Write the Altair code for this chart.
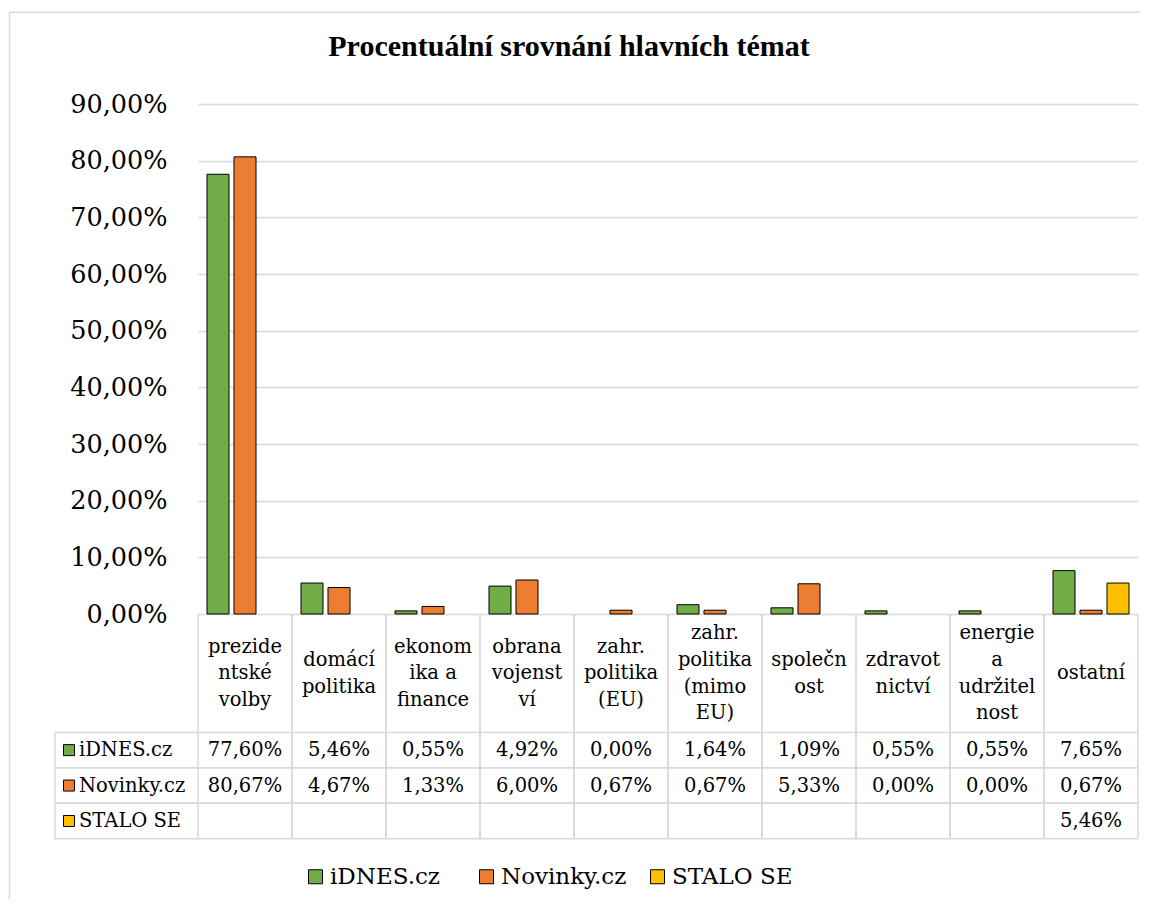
import altair as alt
import pandas as pd

TITLE = "Procentuální srovnání hlavních témat"
categories = ["prezidentské volby", "domácí politika", "ekonomika a finance",
              "obrana vojenství", "zahr. politika (EU)", "zahr. politika (mimo EU)",
              "společnost", "zdravotnictví", "energie a udržitelnost", "ostatní"]
cat_labels = ["prezide\nntské\nvolby", "domácí\npolitika", "ekonom\nika a\nfinance",
              "obrana\nvojenst\nví", "zahr.\npolitika\n(EU)", "zahr.\npolitika\n(mimo\nEU)",
              "společn\nost", "zdravot\nnictví", "energie\na\nudržitel\nnost", "ostatní"]
series = ["iDNES.cz", "Novinky.cz", "STALO SE"]
colors = ["#70AD47", "#ED7D31", "#FFC000"]
idnes = [0.7760, 0.0546, 0.0055, 0.0492, 0.0000, 0.0164, 0.0109, 0.0055, 0.0055, 0.0765]
novinky = [0.8067, 0.0467, 0.0133, 0.0600, 0.0067, 0.0067, 0.0533, 0.0000, 0.0000, 0.0067]
stalo = [None, None, None, None, None, None, None, None, None, 0.0546]
y_ticks = [0, 0.1, 0.2, 0.3, 0.4, 0.5, 0.6, 0.7, 0.8, 0.9]

rows = []
for s, vals in zip(series, [idnes, novinky, stalo]):
    for c, v in zip(categories, vals):
        rows.append({"cat": c, "series": s, "value": v})
df = pd.DataFrame(rows)
df_cats = pd.DataFrame({"cat": categories, "label": cat_labels,
                        "n": [lab.count("\n") + 1 for lab in cat_labels]})
df_series = pd.DataFrame({"series": series})

FONT = "DejaVu Serif"
TFONT = "Liberation Serif"
GRID = "#d9d9d9"
W, H = 940, 510
ROW_TOP, ROW_BOT = 628.4, 734.7  # table data rows (relative to plot)
LH = 26.7
TS = 19.5  # table font size

xenc = alt.X("cat:N", sort=categories,
             scale=alt.Scale(domain=categories, paddingInner=0, paddingOuter=0), axis=None)
color = alt.Color("series:N", scale=alt.Scale(domain=series, range=colors),
                  legend=alt.Legend(title=None, orient="none", direction="horizontal",
                                    legendX=106, legendY=761, symbolType="square",
                                    symbolSize=196, symbolStrokeColor="black",
                                    symbolStrokeWidth=1, labelFont=FONT, labelFontSize=23,
                                    labelColor="black", labelOffset=3, gridAlign="all",
                                    columnPadding=19, padding=0, symbolOpacity=1,
                                    labelLimit=300))
row_scale = alt.Scale(domain=series, range=[ROW_TOP, ROW_BOT], paddingInner=0, paddingOuter=0)

base = alt.Chart(df)

bars = base.transform_filter("datum.value > 0").mark_bar(
    stroke="black", strokeWidth=1, opacity=1
).encode(
    x=xenc,
    xOffset=alt.XOffset("series:N", scale=alt.Scale(domain=series, paddingInner=0.185,
                                                      paddingOuter=0.333)),
    y=alt.Y("value:Q", scale=alt.Scale(domain=[0, 0.9], nice=False, zero=True),
            axis=alt.Axis(values=y_ticks, title=None, domain=False, ticks=False, tickSize=0,
                          labelExpr="replace(format(datum.value, '.2%'), '.', ',')",
                          labelFont=FONT, labelFontSize=25.5, labelColor="black",
                          labelPadding=31, grid=True, gridColor=GRID, gridWidth=1.5)),
    color=color,
)

# table: vertical separators
vlines_l = alt.Chart(df_cats).mark_rule(color=GRID, strokeWidth=1.5).encode(
    x=alt.X("cat:N", sort=categories, bandPosition=0,
            scale=alt.Scale(domain=categories, paddingInner=0, paddingOuter=0), axis=None),
    y=alt.value(H), y2=alt.value(ROW_BOT))
vlines_r = alt.Chart(df_cats).mark_rule(color=GRID, strokeWidth=1.5).encode(
    x=alt.X("cat:N", sort=categories, bandPosition=1,
            scale=alt.Scale(domain=categories, paddingInner=0, paddingOuter=0), axis=None),
    y=alt.value(H), y2=alt.value(ROW_BOT))
hdr_left = alt.Chart(df_series).transform_filter("datum.series == 'iDNES.cz'").mark_rule(
    color=GRID, strokeWidth=1.5).encode(
    x=alt.value(-143), y=alt.value(ROW_TOP), y2=alt.value(ROW_BOT))
hlines_t = alt.Chart(df_series).mark_rule(color=GRID, strokeWidth=1.5).encode(
    y=alt.Y("series:N", bandPosition=0, scale=row_scale, axis=None),
    x=alt.value(-143), x2=alt.value(W))
hlines_b = alt.Chart(df_series).mark_rule(color=GRID, strokeWidth=1.5).encode(
    y=alt.Y("series:N", bandPosition=1, scale=row_scale, axis=None),
    x=alt.value(-143), x2=alt.value(W))

cat_layers = []
for n in sorted(df_cats["n"].unique()):
    cat_layers.append(
        alt.Chart(df_cats).transform_filter(f"datum.n == {n}").mark_text(
            font=FONT, fontSize=TS, lineBreak="\n", lineHeight=LH, color="black",
            baseline="middle", align="center", dy=-(n - 1) * LH / 2
        ).encode(x=xenc, y=alt.value((H + ROW_TOP) / 2), text="label:N")
    )

val_text = base.transform_filter("isValid(datum.value)").transform_calculate(
    txt="replace(format(datum.value, '.2%'), '.', ',')"
).mark_text(font=FONT, fontSize=TS, color="black", baseline="middle",
            align="center").encode(
    x=xenc, y=alt.Y("series:N", scale=row_scale, axis=None), text="txt:N")

hdr_text = alt.Chart(df_series).mark_text(
    font=FONT, fontSize=TS, color="black", baseline="middle", align="left"
).encode(x=alt.value(-119), y=alt.Y("series:N", scale=row_scale, axis=None), text="series:N")

hdr_sq = alt.Chart(df_series).mark_square(
    size=121, stroke="black", strokeWidth=1, opacity=1
).encode(x=alt.value(-129), y=alt.Y("series:N", scale=row_scale, axis=None), color=color)

title = alt.Chart(pd.DataFrame({"t": [TITLE]})).mark_text(
    font=TFONT, fontSize=30, fontWeight="bold", color="black", align="center",
    baseline="alphabetic"
).encode(x=alt.value(371), y=alt.value(-48), text="t:N")

border_top = alt.Chart(df_series).transform_filter("datum.series == 'iDNES.cz'").mark_rule(
    color=GRID, strokeWidth=1.5).encode(x=alt.value(-188.5), x2=alt.value(942), y=alt.value(-91.8))
border_left = alt.Chart(df_series).transform_filter("datum.series == 'iDNES.cz'").mark_rule(
    color=GRID, strokeWidth=1.5).encode(x=alt.value(-188.5), y=alt.value(-91.8), y2=alt.value(795))

chart = alt.layer(
    bars, vlines_l, vlines_r, hdr_left, hlines_t, hlines_b, *cat_layers, val_text,
    hdr_text, hdr_sq, title, border_top, border_left
).resolve_scale(y="independent").properties(
    width=W, height=H, background="white",
    padding={"left": 0, "top": 3, "right": 0, "bottom": 0}
).configure_view(stroke=None)

chart.save("out.html", embed_options={"renderer": "svg", "actions": False})
